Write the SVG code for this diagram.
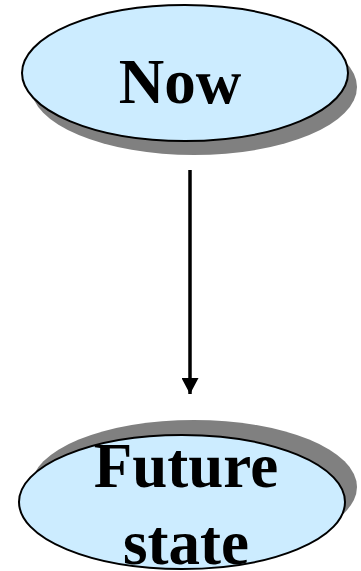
<svg xmlns="http://www.w3.org/2000/svg" width="361" height="571" viewBox="0 0 361 571">
<style>
.shadow{fill:#808080;stroke:none}
.node{fill:#CCECFF;stroke:#000;stroke-width:2}
.label{font-family:"Liberation Serif","Times New Roman",serif;font-weight:bold;font-size:63px;fill:#000;text-anchor:middle}
</style>
<defs>
<marker id="arr" markerWidth="16" markerHeight="17" refX="16" refY="8.5" orient="auto" markerUnits="userSpaceOnUse">
<path d="M0,0 L16,8.5 L0,17 Z" fill="#000"/>
</marker>
</defs>
<g id="connectors">
<line x1="190" y1="170" x2="190" y2="394" stroke="#000" stroke-width="3.5" marker-end="url(#arr)"/>
</g>
<g id="now">
<ellipse class="shadow" cx="194" cy="87" rx="163" ry="68"/>
<ellipse class="node" cx="185" cy="73" rx="163" ry="68"/>
<text class="label" x="180" y="103">Now</text>
</g>
<g id="future">
<ellipse class="shadow" cx="194" cy="487" rx="163" ry="67"/>
<ellipse class="node" cx="182" cy="502" rx="163" ry="67"/>
<text class="label" x="186" y="487">Future</text>
<text class="label" x="186" y="564">state</text>
</g>
</svg>
